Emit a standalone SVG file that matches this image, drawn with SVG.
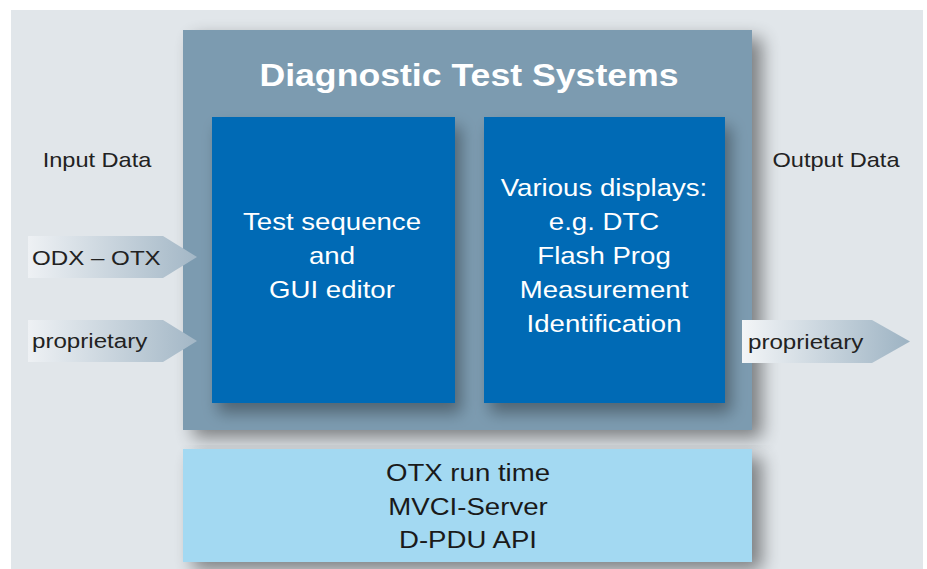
<svg xmlns="http://www.w3.org/2000/svg" width="927" height="569" viewBox="0 0 927 569">
<defs>
<style>
text{font-family:"Liberation Sans",Arial,sans-serif}
.t{fill:#ffffff;font-size:24px;text-anchor:middle}
.title{fill:#ffffff;font-size:31px;font-weight:bold;text-anchor:middle}
.lbl{fill:#222222;font-size:21px}
.lc{fill:#222222;font-size:20.5px;text-anchor:middle}
.bt{fill:#1a1a1a;font-size:24px;text-anchor:middle}
</style>
<linearGradient id="arrL" x1="0" y1="0" x2="1" y2="0">
<stop offset="0" stop-color="#eef1f4"/>
<stop offset="1" stop-color="#a3b7c6"/>
</linearGradient>
<linearGradient id="arrR" x1="0" y1="0" x2="1" y2="0">
<stop offset="0" stop-color="#f3f5f7"/>
<stop offset="1" stop-color="#9db3c3"/>
</linearGradient>
<filter id="sh" x="-10%" y="-10%" width="130%" height="130%">
<feGaussianBlur in="SourceAlpha" stdDeviation="9"/>
<feOffset dx="10" dy="8" result="b"/>
<feComponentTransfer><feFuncA type="linear" slope="0.45"/></feComponentTransfer>
<feMerge><feMergeNode/><feMergeNode in="SourceGraphic"/></feMerge>
</filter>
<filter id="sh2" x="-10%" y="-10%" width="130%" height="130%">
<feGaussianBlur in="SourceAlpha" stdDeviation="8"/>
<feOffset dx="6" dy="10" result="b"/>
<feComponentTransfer><feFuncA type="linear" slope="0.35"/></feComponentTransfer>
<feMerge><feMergeNode/><feMergeNode in="SourceGraphic"/></feMerge>
</filter>
</defs>
<rect width="927" height="569" fill="#ffffff"/>
<rect x="11" y="10" width="912" height="559" fill="#e1e6ea"/>

<g id="diagnostic-test-systems">
<rect x="183" y="30" width="569" height="400" fill="#7b9bb0" filter="url(#sh)"/>
<text class="title" transform="translate(469 86) scale(1.15 1)">Diagnostic Test Systems</text>
</g>

<g id="test-sequence-editor">
<rect x="212" y="117" width="243" height="286" fill="#006bb5" filter="url(#sh2)"/>
<text class="t" transform="translate(332 230) scale(1.15 1)">Test sequence</text>
<text class="t" transform="translate(332 264) scale(1.15 1)">and</text>
<text class="t" transform="translate(332 298) scale(1.15 1)">GUI editor</text>
</g>

<g id="various-displays">
<rect x="484" y="117" width="241" height="286" fill="#006bb5" filter="url(#sh2)"/>
<text class="t" transform="translate(604 196) scale(1.15 1)">Various displays:</text>
<text class="t" transform="translate(604 230) scale(1.15 1)">e.g. DTC</text>
<text class="t" transform="translate(604 264) scale(1.15 1)">Flash Prog</text>
<text class="t" transform="translate(604 298) scale(1.15 1)">Measurement</text>
<text class="t" transform="translate(604 332) scale(1.15 1)">Identification</text>
</g>

<g id="runtime">
<rect x="183" y="449" width="569" height="113" fill="#a3d9f2" filter="url(#sh)"/>
<text class="bt" transform="translate(468 481) scale(1.15 1)">OTX run time</text>
<text class="bt" transform="translate(468 515) scale(1.15 1)">MVCI-Server</text>
<text class="bt" transform="translate(468 548) scale(1.15 1)">D-PDU API</text>
</g>

<g id="input-data-label">
<text class="lc" transform="translate(97 167) scale(1.15 1)">Input Data</text>
</g>
<g id="output-data-label">
<text class="lc" transform="translate(836 167) scale(1.15 1)">Output Data</text>
</g>

<g id="connectors">
<g id="in-odx-otx">
<polygon points="28,236 163,236 197,257 163,278 28,278" fill="url(#arrL)"/>
<text class="lbl" transform="translate(32 265) scale(1.15 1)">ODX – OTX</text>
</g>
<g id="in-proprietary">
<polygon points="28,320 163,320 197,341 163,362 28,362" fill="url(#arrL)"/>
<text class="lbl" transform="translate(32 348) scale(1.15 1)">proprietary</text>
</g>
<g id="out-proprietary">
<polygon points="742,320 872,320 910,341.5 872,363 742,363" fill="url(#arrR)"/>
<text class="lbl" transform="translate(748 349) scale(1.15 1)">proprietary</text>
</g>
</g>
</svg>
